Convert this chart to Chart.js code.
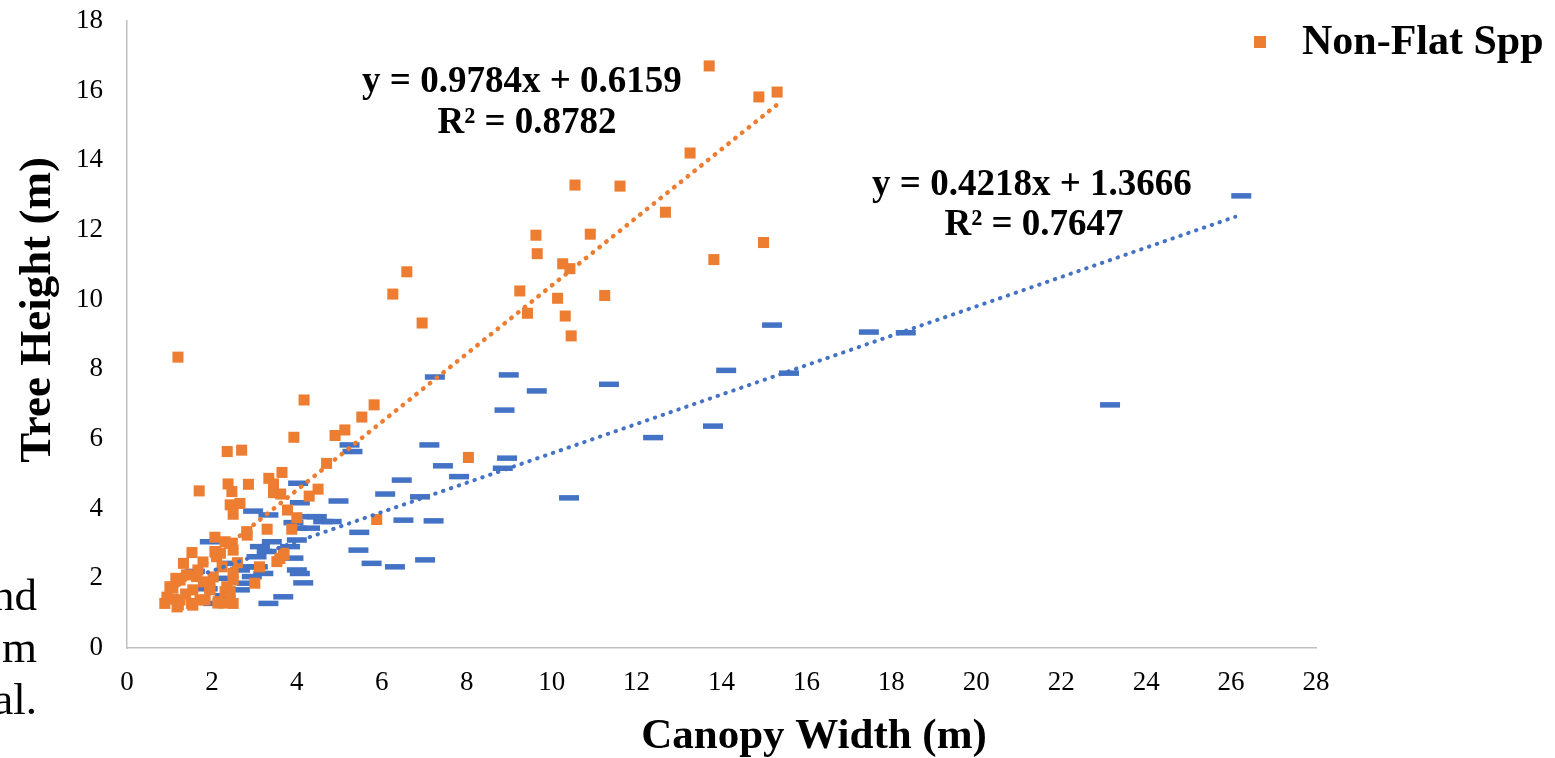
<!DOCTYPE html>
<html>
<head>
<meta charset="utf-8">
<script src="https://cdn.jsdelivr.net/npm/chart.js@4.4.1/dist/chart.umd.min.js"></script>
<style>
  html, body { margin: 0; padding: 0; background: #fff; }
  #wrap { position: relative; width: 1555px; height: 758px; overflow: hidden; }
  #chart { position: absolute; left: 0; top: 0; }
  #sideText {
    position: absolute; right: 1518px; top: 569px;
    font: 45px 'Liberation Serif', serif; line-height: 52px;
    text-align: right; white-space: nowrap; color: #000;
  }
</style>
</head>
<body>
<div id="wrap">
  <canvas id="chart" width="1555" height="758"></canvas>
  <div id="sideText">nd<br>m<br>al.</div>
</div>
<script>
// --- Data ---
// Non-Flat Spp (orange squares)
const nonFlatX = [13.71, 14.88, 15.31, 13.26, 10.55, 11.61, 12.68, 9.63, 10.91, 9.66,
  10.26, 10.43, 14.99, 13.82, 9.25, 10.14, 11.25, 9.43, 10.32, 10.46,
  6.59, 6.26, 6.95, 1.20, 4.17, 5.82, 5.53, 3.93, 4.90, 5.13,
  4.70, 8.04, 2.36, 2.70, 1.70, 3.65, 3.34, 3.45, 2.38, 2.86,
  2.47, 3.45, 3.62, 4.50, 4.29, 2.43, 2.66, 2.50, 3.78, 4.00,
  3.30, 3.88, 2.83, 5.88, 2.07, 2.31, 2.48, 1.53, 2.07, 2.20,
  3.68, 3.53, 3.12, 1.33, 2.50, 3.01, 1.15, 1.01, 1.64, 1.95,
  2.31, 2.43, 0.89, 1.21, 1.52, 1.84, 2.15, 2.50, 2.10, 3.70,
  1.79, 1.67, 2.24, 1.25, 2.03, 2.50, 1.08, 1.55, 1.95, 1.25,
  1.72, 2.14, 1.18, 1.55, 0.94, 3.60, 2.50, 2.11, 2.35, 1.95,
  2.43, 2.82, 2.26, 1.40, 1.80, 1.38, 1.10, 2.60];
const nonFlatY = [16.71, 15.82, 15.96, 14.21, 13.29, 13.26, 12.51, 11.85, 11.88, 11.32,
  11.03, 10.89, 11.64, 11.15, 10.25, 10.04, 10.12, 9.61, 9.53, 8.96,
  10.80, 10.16, 9.33, 8.35, 7.12, 6.98, 6.63, 6.05, 6.10, 6.26,
  5.30, 5.47, 5.64, 5.68, 4.51, 5.04, 4.87, 4.71, 4.71, 4.70,
  4.49, 4.46, 4.42, 4.56, 4.36, 4.11, 4.15, 3.84, 3.96, 3.74,
  3.41, 3.41, 3.24, 3.69, 3.18, 3.05, 3.01, 2.74, 2.77, 2.72,
  2.72, 2.48, 2.33, 2.43, 2.14, 1.86, 2.00, 1.76, 2.05, 1.71,
  1.62, 1.62, 1.28, 1.24, 1.28, 1.38, 1.33, 1.28, 2.73, 2.67,
  2.47, 2.24, 2.33, 1.95, 2.04, 1.95, 1.72, 1.67, 1.67, 1.38,
  1.38, 1.29, 1.18, 1.23, 1.46, 2.57, 2.81, 2.62, 1.76, 1.86,
  1.38, 3.34, 1.29, 2.10, 1.90, 1.55, 1.40, 2.45];

// Flat Spp (blue dashes)
const flatX = [26.24, 15.19, 17.47, 18.34, 14.11, 15.59, 23.15, 13.80, 8.99, 9.65,
  11.35, 8.89, 12.39, 8.95, 8.85, 7.44, 7.82, 7.25, 10.41, 7.12,
  5.24, 5.31, 6.47, 6.08, 4.98, 4.03, 4.07, 2.97, 3.33, 4.47,
  4.62, 3.92, 6.51, 7.22, 5.47, 4.00, 4.31, 1.95, 4.00, 3.13,
  3.84, 5.45, 3.05, 3.92, 5.76, 6.31, 7.02, 2.78, 3.21, 4.07,
  2.94, 4.15, 2.82, 2.66, 3.68, 3.33, 2.03, 6.90, 4.31, 4.82,
  4.00, 2.66, 3.08, 3.29, 3.41, 2.47, 2.20, 1.90, 2.30, 1.60];
const flatY = [12.98, 9.27, 9.07, 9.05, 7.97, 7.89, 6.98, 6.37, 7.84, 7.38,
  7.57, 6.83, 6.04, 5.45, 5.16, 5.23, 4.92, 7.78, 4.31, 5.83,
  5.83, 5.64, 4.82, 4.42, 4.22, 4.73, 4.17, 3.93, 3.82, 3.77,
  3.63, 3.60, 3.67, 3.65, 3.32, 3.44, 3.44, 3.05, 3.10, 2.91,
  2.91, 2.81, 2.62, 2.58, 2.43, 2.33, 2.53, 2.33, 2.14, 2.14,
  2.05, 1.87, 1.86, 1.67, 1.47, 1.28, 1.28, 4.34, 3.77, 3.63,
  2.24, 2.24, 2.33, 2.77, 3.05, 2.43, 2.00, 1.70, 1.50, 2.20];

// Linear trendline ends as drawn
const nonFlatTrendX = [0.9, 15.3];
const nonFlatTrendY = [1.50, 15.59];
const flatTrendX = [1.9, 26.1];
const flatTrendY = [2.17, 12.38];

// Axis ticks
const xMin = 0, xMax = 28, xStep = 2;
const yMin = 0, yMax = 18, yStep = 2;

// Trendline captions and axis titles
const eqText = ['y = 0.9784x + 0.6159', 'R\u00B2 = 0.8782', 'y = 0.4218x + 1.3666', 'R\u00B2 = 0.7647'];
const xTitle = 'Canopy Width (m)';
const yTitle = 'Tree Height (m)';

const ORANGE = '#ED7D31';
const BLUE = '#4472C4';
const SERIF = "'Liberation Serif', 'Times New Roman', serif";

function toPoints(xs, ys) {
  return xs.map((x, i) => ({ x: x, y: ys[i] }));
}

// draws the equation captions, axis titles and the single legend entry
const captions = {
  id: 'captions',
  afterDraw(chart, args, opts) {
    const { ctx, scales: { x, y } } = chart;
    ctx.save();
    ctx.fillStyle = '#000';
    ctx.textAlign = 'center';
    ctx.textBaseline = 'middle';
    ctx.font = 'bold 37px ' + SERIF;
    eqText.forEach((t, i) => {
      ctx.fillText(t, x.getPixelForValue(opts.at[i][0]), y.getPixelForValue(opts.at[i][1]));
    });

    // axis titles (sit off-centre in the original)
    ctx.font = 'bold 43px ' + SERIF;
    ctx.fillText(xTitle, 814, 737);
    ctx.save();
    ctx.translate(38, 310);
    ctx.rotate(-Math.PI / 2);
    ctx.font = 'bold 45px ' + SERIF;
    ctx.fillText(yTitle, 0, 0);
    ctx.restore();

    // legend
    ctx.fillStyle = ORANGE;
    ctx.fillRect(1254, 36, 12, 12);
    ctx.fillStyle = '#000';
    ctx.textAlign = 'left';
    ctx.font = 'bold 42px ' + SERIF;
    ctx.fillText('Non-Flat Spp', 1302, 43);
    ctx.restore();
  }
};

new Chart(document.getElementById('chart'), {
  type: 'scatter',
  data: {
    datasets: [
      {
        label: 'Non-Flat trend',
        data: toPoints(nonFlatTrendX, nonFlatTrendY),
        showLine: true,
        borderColor: ORANGE,
        borderWidth: 4.5,
        borderDash: [0.5, 8.2],
        borderCapStyle: 'round',
        pointRadius: 0,
        order: 0
      },
      {
        label: 'Flat trend',
        data: toPoints(flatTrendX, flatTrendY),
        showLine: true,
        borderColor: BLUE,
        borderWidth: 4,
        borderDash: [0.5, 7.8],
        borderCapStyle: 'round',
        pointRadius: 0,
        order: 1
      },
      {
        label: 'Non-Flat Spp',
        data: toPoints(nonFlatX, nonFlatY),
        pointStyle: 'rect',
        pointRadius: 7.8,
        backgroundColor: ORANGE,
        borderColor: ORANGE,
        borderWidth: 0,
        order: 2
      },
      {
        label: 'Flat Spp',
        data: toPoints(flatX, flatY),
        pointStyle: 'line',
        pointRadius: 10,
        borderColor: BLUE,
        borderWidth: 5.5,
        order: 3
      }
    ]
  },
  options: {
    responsive: false,
    animation: false,
    events: [],
    layout: { padding: { left: 0, right: 239, top: 21, bottom: 0 } },
    plugins: {
      legend: { display: false },
      tooltip: { enabled: false },
      captions: { at: [[9.30, 16.25], [9.42, 15.07], [21.31, 13.29], [21.36, 12.12]] }
    },
    scales: {
      x: {
        type: 'linear',
        min: xMin, max: xMax,
        ticks: { stepSize: xStep, color: '#000', font: { family: SERIF, size: 27 }, padding: 19, maxRotation: 0, autoSkip: false },
        grid: { display: false, drawTicks: false },
        border: { display: true, color: '#BFBFBF', width: 1.5 },
        afterFit(scale) { scale.height = 110; }
      },
      y: {
        type: 'linear',
        min: yMin, max: yMax,
        // gap to the axis comes from an undrawn tick length, so the top padding stays small
        ticks: { stepSize: yStep, color: '#000', font: { family: SERIF, size: 27 }, padding: 0 },
        grid: { display: false, drawTicks: true, tickLength: 24 },
        border: { display: true, color: '#BFBFBF', width: 1.5 },
        afterFit(scale) { scale.width = 127; }
      }
    }
  },
  plugins: [captions]
});
</script>
</body>
</html>
